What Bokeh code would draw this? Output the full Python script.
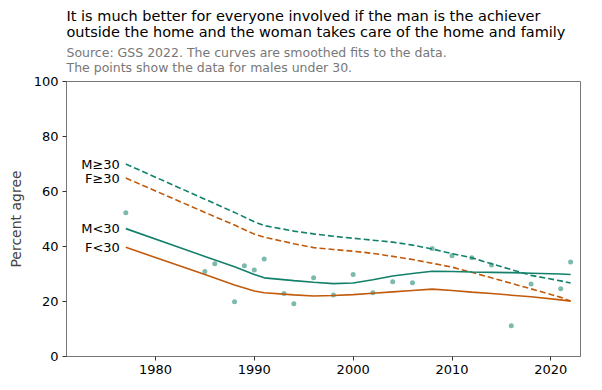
from bokeh.plotting import figure
from bokeh.models import Range1d, Title, FixedTicker
from bokeh.core.properties import value
from bokeh.embed import file_html
from bokeh.resources import INLINE

# ---- data ----
curve_years = [1977, 1985, 1988, 1990, 1991, 1994, 1996, 1998, 2000, 2002,
               2004, 2006, 2008, 2010, 2012, 2014, 2016, 2018, 2021, 2022]
m_young = [46.5, 36.4, 32.6, 29.8, 28.6, 27.6, 27.0, 26.5, 26.7, 27.9,
           29.3, 30.2, 31.0, 30.9, 30.7, 30.6, 30.5, 30.3, 30.0, 29.8]
f_young = [39.7, 29.8, 26.0, 23.8, 23.2, 22.4, 22.0, 22.2, 22.5, 23.0,
           23.5, 24.0, 24.5, 24.0, 23.4, 22.9, 22.3, 21.7, 20.6, 20.1]
m_old = [70.0, 57.2, 52.4, 49.0, 47.6, 45.6, 44.6, 43.7, 43.0, 42.3,
         41.6, 40.5, 39.1, 37.4, 35.9, 33.7, 31.6, 29.5, 27.5, 26.7]
f_old = [64.9, 52.4, 47.8, 44.5, 43.4, 41.0, 39.6, 38.9, 38.3, 37.5,
         36.4, 35.3, 33.9, 32.5, 30.6, 28.6, 26.6, 24.6, 21.5, 20.2]

pt_years = [1977, 1985, 1986, 1988, 1989, 1990, 1991, 1993, 1994, 1996, 1998,
            2000, 2002, 2004, 2006, 2008, 2010, 2012, 2014, 2016, 2018, 2021, 2022]
pt_vals = [52.3, 30.9, 33.7, 19.9, 33.0, 31.5, 35.5, 22.9, 19.2, 28.6, 22.4,
           29.8, 23.2, 27.2, 26.8, 39.3, 36.6, 35.9, 33.3, 11.2, 26.4, 24.6, 34.4]

x_ticks = [1980, 1990, 2000, 2010, 2020]
y_ticks = [0, 20, 40, 60, 80, 100]

series_labels = ["M\u226530", "F\u226530", "M<30", "F<30"]

TEAL = "#12806a"
ORANGE = "#c25a0c"
FONT = "DejaVu Sans"

p = figure(width=594, height=382, output_backend="svg", toolbar_location=None,
           x_range=Range1d(1971, 2023), y_range=Range1d(0, 100),
           min_border_left=66, min_border_right=14, min_border_top=81,
           min_border_bottom=26)

sub = Title(text="Source: GSS 2022. The curves are smoothed fits to the data.\nThe points show the data for males under 30.",
            text_font=FONT, text_font_size="12.5px", text_font_style="normal",
            text_color="#777777", align="left", standoff=13, offset=0)
p.add_layout(sub, "above")
main = Title(text="It is much better for everyone involved if the man is the achiever\noutside the home and the woman takes care of the home and family",
             text_font=FONT, text_font_size="14.5px", text_font_style="normal",
             text_color="black", align="left", standoff=-7, offset=0)
p.add_layout(main, "above")

p.scatter(pt_years, pt_vals, size=5, color=TEAL, alpha=0.55, line_width=0)

p.line(curve_years, m_old, color=TEAL, line_width=1.6, line_dash="6 3")
p.line(curve_years, f_old, color=ORANGE, line_width=1.6, line_dash="6 3")
p.line(curve_years, m_young, color=TEAL, line_width=1.6)
p.line(curve_years, f_young, color=ORANGE, line_width=1.6)

label_y = [m_old[0], f_old[0], m_young[0], f_young[0]]
p.text([1976.4] * 4, label_y, text=series_labels, text_align="right",
       text_baseline="middle", text_font=value(FONT), text_font_size="13px",
       text_color="black")

p.xgrid.visible = False
p.ygrid.visible = False
p.outline_line_color = "#777777"
p.outline_line_width = 1
p.background_fill_color = "white"
p.border_fill_color = "white"

p.xaxis.ticker = FixedTicker(ticks=x_ticks)
p.yaxis.ticker = FixedTicker(ticks=y_ticks)
p.yaxis.axis_label = "Percent agree"
for ax in (p.xaxis, p.yaxis):
    ax.axis_line_color = "#777777"
    ax.major_tick_line_color = "#333333"
    ax.major_tick_out = 4
    ax.major_tick_in = 0
    ax.minor_tick_line_color = None
    ax.major_label_text_font = FONT
    ax.major_label_text_font_size = "13px"
    ax.major_label_text_color = "black"
    ax.major_label_standoff = 4
    ax.axis_label_text_font = FONT
    ax.axis_label_text_font_size = "14px"
    ax.axis_label_text_font_style = "normal"
    ax.axis_label_standoff = 7

open("out.html", "w").write(file_html(p, INLINE))
